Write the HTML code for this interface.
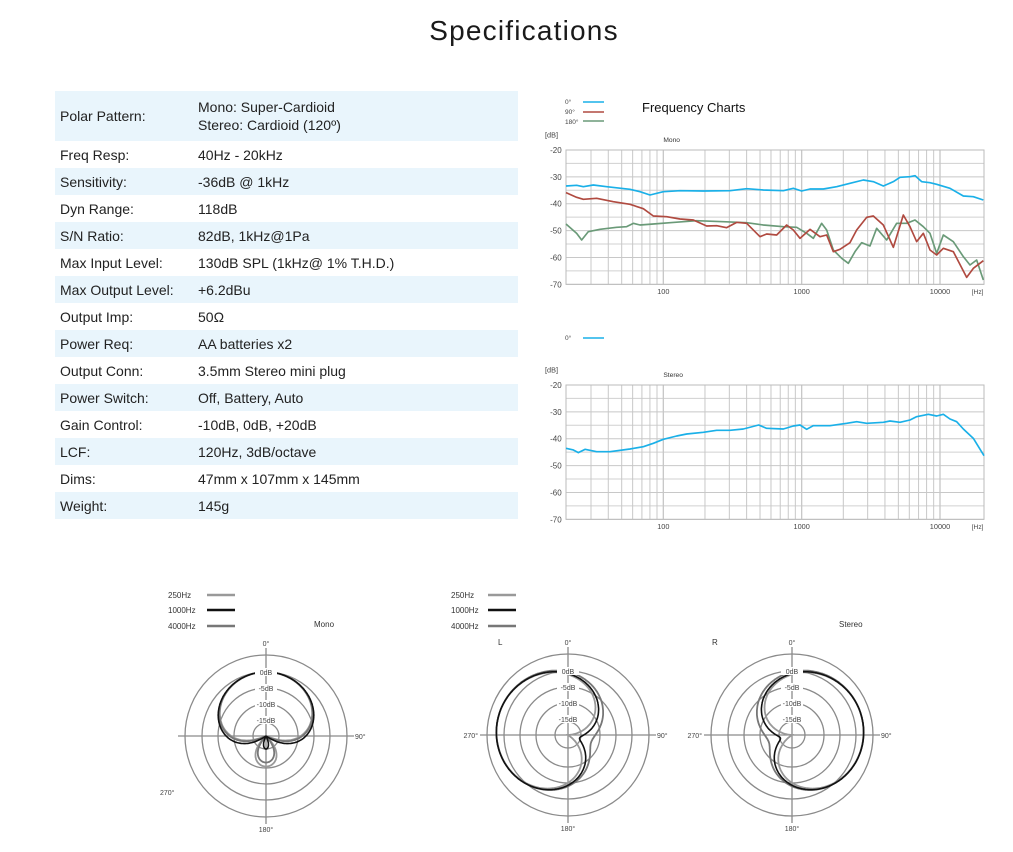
<!DOCTYPE html>
<html><head><meta charset="utf-8">
<style>
body{margin:0;width:1013px;height:852px;background:#fff;position:relative;overflow:hidden;font-family:"Liberation Sans",sans-serif;color:#222}
h1{position:absolute;left:0;width:1048px;top:15px;margin:0;text-align:center;font-weight:normal;font-size:28px;letter-spacing:1.2px;color:#1a1a1a}
table{position:absolute;left:55px;top:91px;width:463px;border-collapse:collapse;font-size:14px}
td{height:27px;padding:0;vertical-align:middle}
td.l{padding-left:5px;width:138px}
tr:nth-child(odd){background:#e9f5fc}
tr:first-child td{height:50px;line-height:18px}
svg{position:absolute;left:0;top:0}
</style></head><body>
<h1>Specifications</h1>
<table>
<tr><td class="l">Polar Pattern:</td><td>Mono: Super-Cardioid<br>Stereo: Cardioid (120º)</td></tr>
<tr><td class="l">Freq Resp:</td><td>40Hz - 20kHz</td></tr>
<tr><td class="l">Sensitivity:</td><td>-36dB @ 1kHz</td></tr>
<tr><td class="l">Dyn Range:</td><td>118dB</td></tr>
<tr><td class="l">S/N Ratio:</td><td>82dB, 1kHz@1Pa</td></tr>
<tr><td class="l">Max Input Level:</td><td>130dB SPL (1kHz@ 1% T.H.D.)</td></tr>
<tr><td class="l">Max Output Level:</td><td>+6.2dBu</td></tr>
<tr><td class="l">Output Imp:</td><td>50Ω</td></tr>
<tr><td class="l">Power Req:</td><td>AA batteries x2</td></tr>
<tr><td class="l">Output Conn:</td><td>3.5mm Stereo mini plug</td></tr>
<tr><td class="l">Power Switch:</td><td>Off, Battery, Auto</td></tr>
<tr><td class="l">Gain Control:</td><td>-10dB, 0dB, +20dB</td></tr>
<tr><td class="l">LCF:</td><td>120Hz, 3dB/octave</td></tr>
<tr><td class="l">Dims:</td><td>47mm x 107mm x 145mm</td></tr>
<tr><td class="l">Weight:</td><td>145g</td></tr>
</table>
<svg id="s" width="1013" height="852" font-family="Liberation Sans, sans-serif">
<text x="642" y="112" font-size="13" fill="#111">Frequency Charts</text>
<g font-size="6.5" fill="#444">
<text x="565" y="104">0°</text><text x="565" y="114">90°</text><text x="565" y="124">180°</text>
<text x="565" y="340">0°</text>
</g>
<g stroke-width="1.6" fill="none">
<line x1="583" y1="102" x2="604" y2="102" stroke="#1ab0e8"/>
<line x1="583" y1="112" x2="604" y2="112" stroke="#b04a40"/>
<line x1="583" y1="121" x2="604" y2="121" stroke="#6a9a78"/>
<line x1="583" y1="338" x2="604" y2="338" stroke="#1ab0e8"/>
</g>
<g id="c1" transform="translate(530,90) scale(0.33333)"></g>
<g id="c2" transform="translate(530,325) scale(0.33333)"></g>
<g id="polar"></g>
</svg>
<script>
var NS="http://www.w3.org/2000/svg";
function el(p,t,a,txt){var e=document.createElementNS(NS,t);for(var k in a)e.setAttribute(k,a[k]);if(txt!=null)e.textContent=txt;p.appendChild(e);return e;}
function grid(g,title){
  var X0=108,X1=1362,Y0=180,Y1=583;
  for(var i=0;i<=10;i++){var y=Y0+(Y1-Y0)*i/10;el(g,'line',{x1:X0,x2:X1,y1:y,y2:y,stroke:i%2?'#d0d0d0':'#c8c8c8','stroke-width':3});}
  function fx(f){return 400+415*Math.log10(f/100);}
  var fs=[30,40,50,60,70,80,90,100,200,300,400,500,600,700,800,900,1000,2000,3000,4000,5000,6000,7000,8000,9000,10000];
  fs.forEach(function(f){var x=fx(f);el(g,'line',{x1:x,x2:x,y1:Y0,y2:Y1,stroke:'#c8c8c8','stroke-width':(f==100||f==1000||f==10000)?4:3});});
  el(g,'rect',{x:X0,y:Y0,width:X1-X0,height:Y1-Y0,fill:'none',stroke:'#bbb','stroke-width':3});
  var lab=['-20','-30','-40','-50','-60','-70'];
  lab.forEach(function(l,i){el(g,'text',{x:95,y:Y0+i*80.6+9,'font-size':24,'text-anchor':'end',fill:'#444'},l);});
  el(g,'text',{x:45,y:142,'font-size':22,fill:'#444'},'[dB]');
  el(g,'text',{x:400,y:156,'font-size':20,fill:'#333'},title);
  [['100',fx(100)],['1000',fx(1000)],['10000',fx(10000)]].forEach(function(a){el(g,'text',{x:a[1],y:612,'font-size':22,'text-anchor':'middle',fill:'#444'},a[0]);});
  el(g,'text',{x:1325,y:612,'font-size':20,fill:'#444'},'[Hz]');
}
function line(g,pts,col){var d='M'+pts.map(function(p){return p.join(',')}).join(' L');el(g,'path',{d:d,fill:'none',stroke:col,'stroke-width':5,'stroke-linejoin':'round'});}
var g1=document.getElementById('c1'),g2=document.getElementById('c2');
grid(g1,'Mono');grid(g2,'Stereo');
line(g1,[[108,402],[140,430],[155,450],[175,425],[210,418],[260,412],[290,410],[310,400],[330,405],[370,402],[420,398],[500,392],[580,395],[650,398],[700,405],[760,410],[800,412],[830,430],[850,445],[875,400],[890,420],[910,480],[935,505],[955,520],[975,485],[995,458],[1020,468],[1040,415],[1070,450],[1100,400],[1130,400],[1155,390],[1180,410],[1200,430],[1220,490],[1240,435],[1270,455],[1300,500],[1320,525],[1340,510],[1360,570]],'#6a9a78');
line(g1,[[108,308],[140,322],[160,328],[200,325],[250,335],[300,343],[340,356],[370,378],[410,380],[450,387],[490,390],[530,408],[560,407],[590,413],[620,397],[650,400],[690,440],[710,432],[740,435],[770,405],[790,420],[810,445],[840,418],[870,440],[890,435],[910,485],[930,478],[960,458],[980,420],[1010,382],[1030,378],[1060,405],[1090,472],[1120,375],[1140,410],[1160,455],[1180,430],[1200,480],[1220,495],[1240,475],[1270,485],[1310,562],[1330,535],[1360,512]],'#b04a40');
line(g1,[[108,288],[140,286],[160,290],[190,285],[230,290],[300,298],[330,305],[360,315],[400,305],[450,302],[520,303],[600,302],[650,296],[700,300],[760,302],[790,295],[815,303],[840,297],[880,297],[920,290],[960,280],[1000,270],[1030,275],[1060,288],[1090,275],[1110,262],[1140,260],[1155,257],[1175,275],[1200,278],[1220,283],[1260,295],[1300,318],[1330,320],[1360,330]],'#1ab0e8');
line(g2,[[108,370],[130,375],[145,383],[165,373],[200,380],[240,380],[300,372],[340,365],[370,355],[400,343],[440,333],[470,327],[520,322],[560,316],[600,316],[640,312],[686,300],[710,310],[760,312],[790,303],[810,300],[830,313],[850,302],[900,302],[950,295],[980,290],[1010,295],[1060,292],[1080,288],[1110,292],[1140,285],[1160,275],[1195,268],[1220,273],[1240,268],[1260,282],[1280,290],[1300,312],[1330,340],[1362,392]],'#1ab0e8');

var P=document.getElementById('polar');
function polarGrid(cx,cy){
  [81,64,48,32,13].forEach(function(r){el(P,'circle',{cx:cx,cy:cy,r:r,fill:'none',stroke:'#8a8a8a','stroke-width':1.3});});
  el(P,'line',{x1:cx-88,x2:cx+88,y1:cy,y2:cy,stroke:'#8a8a8a','stroke-width':1.3});
  el(P,'line',{x1:cx,x2:cx,y1:cy-88,y2:cy+88,stroke:'#8a8a8a','stroke-width':1.3});
}
function labels(cx,cy,lab270){
  [['0dB',64],['-5dB',48],['-10dB',32],['-15dB',16]].forEach(function(a){
    el(P,'rect',{x:cx-11,y:cy-a[1]-4,width:22,height:8,fill:'#fff'});
    el(P,'text',{x:cx,y:cy-a[1]+3,'font-size':7,'text-anchor':'middle',fill:'#444'},a[0]);});
  el(P,'text',{x:cx,y:cy-90,'font-size':7,'text-anchor':'middle',fill:'#444'},'0°');
  el(P,'text',{x:cx,y:cy+96,'font-size':7,'text-anchor':'middle',fill:'#444'},'180°');
  el(P,'text',{x:cx+89,y:cy+3,'font-size':7,fill:'#444'},'90°');
  if(lab270)el(P,'text',{x:cx-90,y:cy+3,'font-size':7,'text-anchor':'end',fill:'#444'},'270°');
}
function pat(cx,cy,a,rot,col,w,R,D){
  var d='';
  for(var i=0;i<=360;i++){var t=i*Math.PI/180;var v=Math.abs(a+(1-a)*Math.cos(t-rot));var db=20*Math.log10(Math.max(v,1e-4));var r=R*(1+db/D);if(r<0)r=0;
    var x=cx+r*Math.sin(t),y=cy-r*Math.cos(t);d+=(i?'L':'M')+x.toFixed(1)+','+y.toFixed(1);}
  el(P,'path',{d:d,fill:'none',stroke:col,'stroke-width':w});
}
polarGrid(266,736);
pat(266,736,0.35,0,'#999',1.8,64,20);pat(266,736,0.37,0,'#777',1.8,64,20);pat(266,736,0.42,0,'#111',1.6,64,20);
labels(266,736,false);
el(P,'text',{x:160,y:795,'font-size':7,fill:'#444'},'270°');
var r1=-75*Math.PI/180,r2=75*Math.PI/180;
polarGrid(568,735);
pat(568,735,0.52,r1,'#999',1.8,72,24);pat(568,735,0.58,r1+0.05,'#777',1.8,72,24);pat(568,735,0.55,r1,'#111',1.6,72,24);
labels(568,735,true);
polarGrid(792,735);
pat(792,735,0.52,r2,'#999',1.8,72,24);pat(792,735,0.58,r2-0.05,'#777',1.8,72,24);pat(792,735,0.55,r2,'#111',1.6,72,24);
labels(792,735,true);
function leg(x,lx){
  [['250Hz',597,'#999'],['1000Hz',612,'#111'],['4000Hz',628,'#777']].forEach(function(a){
    el(P,'text',{x:x,y:a[1]+1,'font-size':8,fill:'#333'},a[0]);
    el(P,'line',{x1:lx,x2:lx+28,y1:a[1]-2,y2:a[1]-2,stroke:a[2],'stroke-width':2.5});});
}
leg(168,207);leg(451,488);
el(P,'text',{x:314,y:627,'font-size':8,fill:'#333'},'Mono');
el(P,'text',{x:839,y:627,'font-size':8,fill:'#333'},'Stereo');
el(P,'text',{x:498,y:645,'font-size':8,fill:'#333'},'L');
el(P,'text',{x:712,y:645,'font-size':8,fill:'#333'},'R');
</script>
</body></html>
